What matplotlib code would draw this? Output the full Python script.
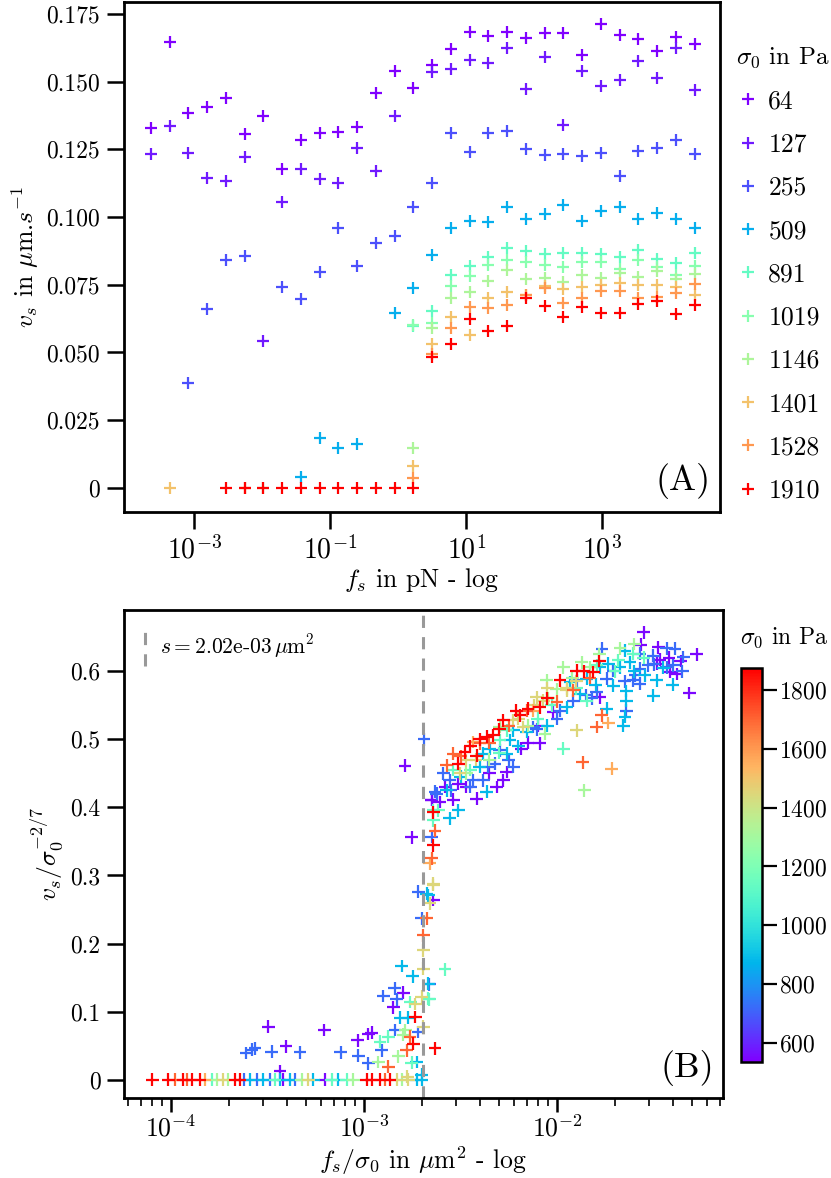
import numpy as np
import matplotlib
matplotlib.use("Agg")
import matplotlib.pyplot as plt
from matplotlib.ticker import FixedLocator, FuncFormatter, NullLocator, LogLocator
from matplotlib.colors import Normalize
from matplotlib.cm import ScalarMappable

plt.rcParams.update({
    "font.family": "serif",
    "font.serif": ["cmr10"],
    "mathtext.fontset": "cm",
    "axes.formatter.use_mathtext": True,
})

N = np.nan
# ---------------- Panel A data ----------------
f_s = [2.31e-4, 4.35e-4, 8.21e-4, 1.55e-3, 2.92e-3, 5.52e-3, 1.04e-2, 1.96e-2, 3.71e-2, 6.99e-2,
       0.132, 0.249, 0.469, 0.885, 1.67, 3.15, 5.94, 11.2, 21.2, 39.9,
       75.3, 142, 268, 506, 955, 1803, 3396, 6412, 12100, 22800]
sigma_A = [64, 127, 255, 509, 891, 1019, 1146, 1401, 1528, 1910]

v_64 = [0.1328, 0.1645, 0.1383, 0.1407, 0.1441, 0.1305, 0.1373, 0.1177, 0.1284, 0.1311,
        0.1314, 0.1334, 0.1457, 0.1540, 0.1475, 0.1561, 0.1619, 0.1682, 0.1669, 0.1684,
        0.1662, 0.1679, 0.1681, 0.1598, 0.1713, 0.1672, 0.1656, 0.1614, 0.1666, 0.1638]
v_127 = [0.1232, 0.1336, 0.1235, 0.1143, 0.1133, 0.1223, 0.0542, 0.1054, 0.1177, 0.1139,
         0.1124, 0.1256, 0.1171, 0.1374, N, 0.1537, 0.1545, 0.1580, 0.1568, 0.1623,
         0.1473, 0.1590, 0.1339, 0.1539, 0.1484, 0.1505, 0.1576, 0.1515, 0.1623, 0.1469]
v_255 = [N, N, 0.0386, 0.0661, 0.0840, 0.0856, N, 0.0740, 0.0696, 0.0797,
         0.0958, 0.0820, 0.0905, 0.0930, 0.1036, 0.1124, 0.1309, 0.1240, 0.1309, 0.1319,
         0.1251, 0.1228, 0.1233, 0.1226, 0.1235, 0.1153, 0.1244, 0.1256, 0.1284, 0.1233]
v_509 = [N, N, N, N, N, N, N, N, 0.0041, 0.0184,
         0.0146, 0.0163, N, 0.0646, 0.0737, 0.0859, 0.0958, 0.0986, 0.0983, 0.1038,
         0.0994, 0.1011, 0.1044, 0.0986, 0.1023, 0.1038, 0.0993, 0.1014, 0.0993, 0.0960]
v_891 = [N, N, N, N, N, N, N, N, N, N,
         N, N, N, N, 0.0597, 0.0653, 0.0786, 0.0819, 0.0853, 0.0887,
         0.0875, 0.0862, 0.0866, 0.0866, 0.0862, 0.0851, 0.0878, 0.0844, 0.0831, 0.0866]
v_1019 = [N, N, N, N, N, N, N, N, N, N,
          N, N, N, N, 0.0600, 0.0610, 0.0745, 0.0782, 0.0823, 0.0841,
          0.0835, 0.0823, 0.0814, 0.0835, 0.0833, 0.0810, 0.0841, 0.0814, 0.0786, 0.0819]
v_1146 = [N, N, N, N, N, N, 0.0, N, N, N,
          N, N, N, N, 0.0149, 0.0589, 0.0700, 0.0724, 0.0765, 0.0804,
          0.0771, 0.0774, 0.0761, 0.0786, 0.0774, 0.0794, 0.0779, 0.0800, 0.0770, 0.0790]
v_1401 = [N, 0.0, N, N, N, N, N, N, N, N,
          N, N, N, N, 0.0081, 0.0531, 0.0632, 0.0564, 0.0700, 0.0722,
          0.0712, 0.0745, 0.0733, 0.0742, 0.0749, 0.0755, 0.0749, 0.0749, 0.0740, 0.0712]
v_1528 = [N, N, N, N, N, 0.0, N, N, N, N,
          N, N, N, N, 0.0038, 0.0495, 0.0589, 0.0669, 0.0666, 0.0677,
          0.0712, 0.0739, 0.0683, 0.0700, 0.0728, 0.0728, 0.0700, 0.0706, 0.0720, 0.0752]
v_1910 = [N, N, N, N, 0.0, 0.0, 0.0, 0.0, 0.0, 0.0,
          0.0, 0.0, 0.0, 0.0, 0.0, 0.0484, 0.0533, 0.0623, 0.0579, 0.0598,
          0.0702, 0.0672, 0.0632, 0.0669, 0.0647, 0.0647, 0.0679, 0.0690, 0.0641, 0.0677]
v_series = [v_64, v_127, v_255, v_509, v_891, v_1019, v_1146, v_1401, v_1528, v_1910]

# ---------------- Panel B data: (log10(f_s/sigma0), v_s/sigma0^(-2/7)) ----------------
sigma_B = [545, 720, 880, 1140, 1310, 1450, 1560, 1700, 1870]
pts_545 = [(-1.550, 0.657), (-1.567, 0.639), (-1.475, 0.635), (-1.277, 0.625), (-1.467, 0.617),
           (-1.415, 0.599), (-1.380, 0.596), (-1.315, 0.568), (-1.778, 0.562), (-2.019, 0.540),
           (-2.097, 0.520), (-2.089, 0.494), (-2.184, 0.486), (-2.261, 0.452), (-2.279, 0.440),
           (-2.313, 0.430), (-2.512, 0.435), (-2.469, 0.430), (-2.417, 0.413), (-2.538, 0.411),
           (-2.607, 0.408), (-2.650, 0.411), (-2.753, 0.356), (-2.788, 0.461), (-1.483, 0.611),
           (-3.496, 0.078), (-3.205, 0.073), (-3.404, 0.049), (-3.435, 0.012), (-3.033, 0.058),
           (-2.978, 0.067), (-2.960, 0.069), (-2.848, 0.106), (-2.796, 0.128), (-2.641, 0.264),
           (-2.649, 0.411), (-3.418, 0.0), (-3.202, 0.0), (-2.58, 0.43), (-2.35, 0.45),
           (-2.15, 0.495), (-1.36, 0.615), (-1.42, 0.62)]
pts_720 = [(-1.767, 0.633), (-1.570, 0.626), (-1.501, 0.623), (-1.432, 0.634), (-1.389, 0.633),
           (-1.346, 0.621), (-1.527, 0.609), (-1.570, 0.604), (-1.596, 0.594), (-1.605, 0.587),
           (-1.570, 0.582), (-1.432, 0.606), (-1.398, 0.609), (-1.640, 0.542), (-1.795, 0.569),
           (-1.743, 0.589), (-1.708, 0.601), (-1.899, 0.587), (-1.821, 0.560), (-1.916, 0.557),
           (-1.985, 0.542), (-2.123, 0.518), (-2.106, 0.515), (-2.296, 0.484), (-2.322, 0.464),
           (-2.356, 0.460), (-2.227, 0.460), (-2.382, 0.440), (-2.434, 0.440), (-2.589, 0.450),
           (-2.555, 0.440), (-2.624, 0.420), (-2.650, 0.357), (-2.718, 0.276), (-2.689, 0.500),
           (-3.611, 0.039), (-3.582, 0.044), (-3.565, 0.046), (-3.478, 0.041), (-3.332, 0.040),
           (-3.121, 0.040), (-3.029, 0.035), (-2.978, 0.024), (-2.909, 0.043), (-2.900, 0.123),
           (-2.840, 0.134), (-2.831, 0.118), (-2.839, 0.073), (-2.718, 0.070), (-2.701, 0.237),
           (-2.661, 0.140), (-2.632, 0.423), (-3.622, 0.0), (-3.556, 0.0), (-3.487, 0.0),
           (-3.357, 0.0), (-2.55, 0.425), (-2.45, 0.43), (-2.25, 0.47), (-2.00, 0.53),
           (-1.85, 0.565), (-1.65, 0.585), (-1.50, 0.61), (-1.35, 0.60)]
pts_880 = [(-1.648, 0.630), (-1.545, 0.594), (-1.484, 0.587), (-1.501, 0.564), (-1.640, 0.571),
           (-1.640, 0.557), (-1.648, 0.533), (-1.657, 0.520), (-1.743, 0.545), (-1.708, 0.579),
           (-1.674, 0.606), (-1.622, 0.613), (-1.735, 0.611), (-1.778, 0.606), (-1.847, 0.589),
           (-1.933, 0.584), (-1.881, 0.567), (-1.950, 0.547), (-2.227, 0.513), (-2.158, 0.511),
           (-2.244, 0.499), (-2.382, 0.479), (-2.348, 0.486), (-2.261, 0.479), (-2.365, 0.423),
           (-2.572, 0.425), (-2.555, 0.384), (-2.512, 0.396), (-2.675, 0.273), (-2.805, 0.167),
           (-2.748, 0.152), (-2.813, 0.091), (-2.770, 0.091), (-2.727, 0.026), (-2.701, 0.007),
           (-2.667, 0.141), (-2.667, 0.271), (-3.591, 0.0), (-3.522, 0.0), (-3.435, 0.0),
           (-3.383, 0.0), (-3.262, 0.0), (-3.133, 0.0), (-2.727, 0.0), (-2.701, 0.0),
           (-2.50, 0.445), (-2.40, 0.46), (-2.20, 0.49), (-2.05, 0.52), (-1.80, 0.58),
           (-1.60, 0.60), (-1.45, 0.605), (-1.40, 0.58)]
pts_1140 = [(-1.605, 0.626), (-1.683, 0.616), (-1.795, 0.609), (-1.847, 0.557), (-2.028, 0.550),
            (-2.261, 0.513), (-2.296, 0.499), (-2.538, 0.455), (-2.615, 0.396), (-2.641, 0.381),
            (-1.967, 0.486), (-2.917, 0.056), (-2.874, 0.063), (-2.761, 0.114), (-2.753, 0.025),
            (-2.667, 0.119), (-2.580, 0.162), (-2.661, 0.118), (-2.640, 0.396), (-3.789, 0.0),
            (-3.461, 0.0), (-3.168, 0.0), (-3.090, 0.0), (-2.45, 0.455), (-2.30, 0.48),
            (-2.10, 0.53), (-1.90, 0.575), (-1.70, 0.60), (-1.55, 0.62)]
pts_1310 = [(-1.674, 0.634), (-1.830, 0.606), (-1.872, 0.613), (-1.968, 0.606), (-2.002, 0.574),
            (-2.054, 0.587), (-2.045, 0.560), (-2.296, 0.518), (-2.062, 0.508), (-2.469, 0.450),
            (-1.858, 0.425), (-2.926, 0.026), (-2.787, 0.073), (-2.796, 0.066), (-2.822, 0.034),
            (-3.763, 0.0), (-3.703, 0.0), (-3.323, 0.0), (-3.055, 0.0), (-2.805, 0.0),
            (-2.35, 0.47), (-2.15, 0.52), (-1.92, 0.59), (-1.78, 0.625), (-1.60, 0.64)]
pts_1450 = [(-1.899, 0.513), (-1.950, 0.572), (-2.106, 0.562), (-2.071, 0.557), (-2.227, 0.528),
            (-2.175, 0.518), (-2.469, 0.469), (-2.503, 0.450), (-2.641, 0.288), (-2.735, 0.111),
            (-2.692, 0.078), (-2.701, 0.122), (-2.775, 0.004), (-2.693, 0.163), (-2.693, 0.190),
            (-2.658, 0.259), (-2.641, 0.286), (-3.729, 0.0), (-3.288, 0.0), (-2.831, 0.0),
            (-2.770, 0.0), (-2.42, 0.47), (-2.20, 0.53), (-2.12, 0.55), (-1.95, 0.575),
            (-1.90, 0.585), (-2.05, 0.575)]
pts_1560 = [(-1.735, 0.524), (-2.123, 0.542), (-2.434, 0.496), (-1.716, 0.457), (-2.659, 0.318),
            (-3.824, 0.0)]
pts_1700 = [(-1.769, 0.535), (-1.795, 0.518), (-1.916, 0.572), (-2.158, 0.542), (-2.399, 0.494),
            (-2.538, 0.479), (-2.572, 0.462), (-2.632, 0.366), (-2.650, 0.325), (-1.867, 0.466),
            (-2.874, 0.019), (-2.762, 0.063), (-2.779, 0.043), (-2.693, 0.212), (-2.675, 0.237),
            (-3.979, 0.0), (-3.919, 0.0), (-2.891, 0.0), (-2.50, 0.475), (-2.35, 0.495),
            (-2.25, 0.52), (-2.00, 0.555), (-1.83, 0.59)]
pts_1870 = [(-1.899, 0.601), (-1.812, 0.599), (-1.985, 0.587), (-2.089, 0.547), (-2.210, 0.542),
            (-2.192, 0.535), (-2.279, 0.528), (-2.330, 0.506), (-2.365, 0.504), (-2.477, 0.481),
            (-2.417, 0.476), (-2.512, 0.464), (-2.641, 0.393), (-2.641, 0.344), (-2.735, 0.092),
            (-2.744, 0.053), (-2.632, 0.046), (-4.097, 0.0), (-4.014, 0.0), (-3.936, 0.0),
            (-3.893, 0.0), (-3.850, 0.0), (-3.668, 0.0), (-3.642, 0.0), (-2.986, 0.0),
            (-2.960, 0.0), (-2.917, 0.0), (-2.865, 0.0), (-2.45, 0.49), (-2.40, 0.50),
            (-2.30, 0.515), (-2.15, 0.545), (-2.05, 0.56), (-1.86, 0.60), (-1.78, 0.615)]
pts_B = [pts_545, pts_720, pts_880, pts_1140, pts_1310, pts_1450, pts_1560, pts_1700, pts_1870]
s_threshold = 2.02e-3

# ---------------- Figure ----------------
W, H = 831, 1178
fig = plt.figure(figsize=(W / 100, H / 100), dpi=100)
axA = fig.add_axes([123.5 / W, 1 - 512 / H, (720 - 123.5) / W, (512 - 2) / H])
axB = fig.add_axes([124 / W, 1 - 1098 / H, (723 - 124) / W, (1098 - 610) / H])
cax = fig.add_axes([741 / W, 1 - 1062 / H, 21 / W, (1062 - 668) / H])

cmap = plt.get_cmap("rainbow")
FS_YT = 17
FS_XT = 20
FS_LAB = 18.5

def style(ax):
    for sp in ax.spines.values():
        sp.set_linewidth(2.0)
    ax.tick_params(which="major", length=12, width=1.8, direction="out", pad=5)
    ax.tick_params(axis="y", labelsize=FS_YT)
    ax.tick_params(axis="x", labelsize=FS_XT)
    ax.tick_params(which="minor", length=6, width=1.2, direction="out")

# Panel A
normA = Normalize(vmin=min(sigma_A), vmax=max(sigma_A))
for sig, v in zip(sigma_A, v_series):
    axA.plot(f_s, v, linestyle="none", marker="+", markersize=9, markeredgewidth=1.6,
             color=cmap(normA(sig)), label=str(sig))
axA.set_xscale("log")
axA.set_xlim(10 ** -4.04, 10 ** 4.73)
axA.set_ylim(-0.0089, 0.1794)
axA.xaxis.set_major_locator(FixedLocator([1e-3, 1e-1, 1e1, 1e3]))
axA.xaxis.set_minor_locator(NullLocator())
axA.yaxis.set_major_locator(FixedLocator(np.arange(0, 0.176, 0.025)))
axA.yaxis.set_major_formatter(FuncFormatter(lambda v, p: "0" if abs(v) < 1e-9 else f"{v:.3f}"))
style(axA)
axA.set_xlabel(r"$f_s$ in pN - log", fontsize=FS_LAB, labelpad=1)
axA.set_ylabel(r"$v_s$ in $\mu$m.$s^{-1}$", fontsize=FS_LAB, labelpad=4)
axA.text(0.985, 0.025, "(A)", transform=axA.transAxes, ha="right", va="bottom", fontsize=26)
leg = axA.legend(title=r"$\sigma_0$ in Pa", loc="upper left", bbox_to_anchor=(1.01, 0.935),
                 frameon=False, fontsize=18.5, title_fontsize=18, handletextpad=0.35,
                 handlelength=0.9, labelspacing=0.76, borderaxespad=0)
leg._legend_box.align = "left"

# Panel B
normB = Normalize(vmin=534, vmax=1876)
xs, ys, cs = [], [], []
for sig, pts in zip(sigma_B, pts_B):
    for lx, yy in pts:
        xs.append(10 ** lx)
        ys.append(yy)
        cs.append(sig)
axB.scatter(xs, ys, c=cs, cmap=cmap, norm=normB, marker="+", s=85, linewidths=1.6)
axB.axvline(s_threshold, color="#999999", linestyle=(0, (4, 3)), linewidth=2.2)
axB.set_xscale("log")
axB.set_xlim(10 ** -4.2435, 10 ** -1.140)
axB.set_ylim(-0.027, 0.690)
axB.xaxis.set_major_locator(FixedLocator([1e-4, 1e-3, 1e-2]))
axB.xaxis.set_minor_locator(LogLocator(base=10, subs=np.arange(2, 10), numticks=20))
axB.yaxis.set_major_locator(FixedLocator(np.arange(0, 0.61, 0.1)))
axB.yaxis.set_major_formatter(FuncFormatter(lambda v, p: "0" if abs(v) < 1e-9 else f"{v:.1f}"))
style(axB)
axB.tick_params(axis="x", which="major", labelsize=18.5, pad=2, length=10)
axB.set_xlabel(r"$f_s/\sigma_0$ in $\mu$m$^2$ - log", fontsize=FS_LAB, va="bottom")
axB.xaxis.set_label_coords(0.5, -(1177 - 1098) / 488)
axB.set_ylabel(r"$v_s/\sigma_0^{-2/7}$", fontsize=FS_LAB, labelpad=4)
axB.text(0.985, 0.025, "(B)", transform=axB.transAxes, ha="right", va="bottom", fontsize=26)
axB.plot([0.035, 0.035], [0.885, 0.965], transform=axB.transAxes, color="#999999",
         linestyle=(0, (4, 3)), linewidth=2.2)
axB.text(0.06, 0.925, r"$s = $2.02e-03$\,\mu$m$^2$", transform=axB.transAxes,
         ha="left", va="center", fontsize=15.5)

# Colorbar
cb = fig.colorbar(ScalarMappable(norm=normB, cmap=cmap), cax=cax)
cb.set_ticks([600, 800, 1000, 1200, 1400, 1600, 1800])
cb.outline.set_linewidth(1.8)
cax.tick_params(length=11, width=1.6, labelsize=17, pad=1)
cax.text(-0.05, 1.045, r"$\sigma_0$ in Pa", transform=cax.transAxes, ha="left", va="bottom", fontsize=17)

fig.savefig("out.png", dpi=100)
